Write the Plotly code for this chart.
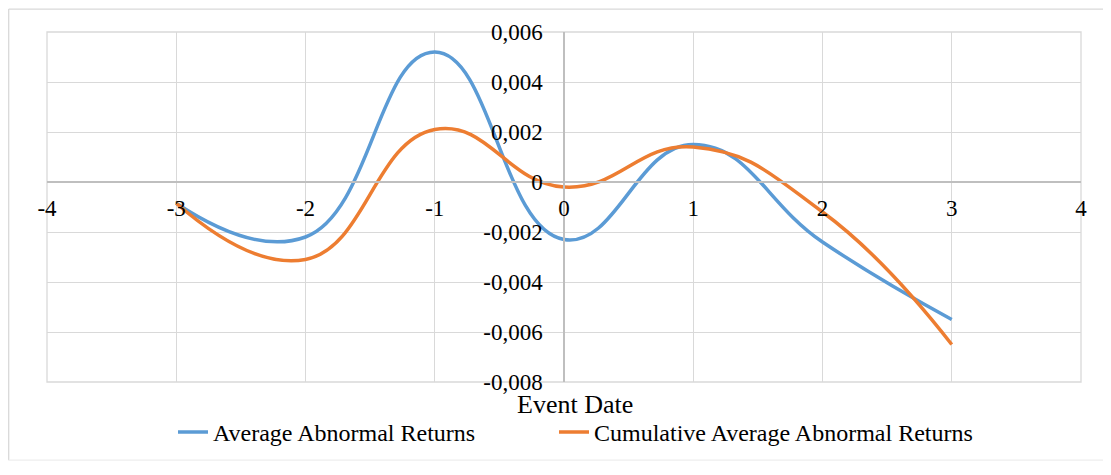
import plotly.graph_objects as go

event_days = [-3, -2, -1, 0, 1, 2, 3]
aar = [-0.00085, -0.0022, 0.0052, -0.0023, 0.0015, -0.0024, -0.0055]
caar = [-0.00085, -0.0031, 0.0021, -0.0002, 0.0014, -0.0012, -0.0065]

x_ticks = [-4, -3, -2, -1, 0, 1, 2, 3, 4]
x_tick_text = ["-4", "-3", "-2", "-1", "0", "1", "2", "3", "4"]
y_ticks = [-0.008, -0.006, -0.004, -0.002, 0, 0.002, 0.004, 0.006]
y_tick_text = ["-0,008", "-0,006", "-0,004", "-0,002", "0", "0,002", "0,004", "0,006"]

FONT = "Liberation Serif, Times New Roman, serif"
GRID = "#d9d9d9"
AXIS = "#bfbfbf"

W, H = 1095, 459
L, T, PW, PH = 39, 24, 1034, 355

fig = go.Figure()
fig.add_trace(go.Scatter(x=event_days, y=aar, mode="lines", name="Average Abnormal Returns",
                         legend="legend",
                         line=dict(color="#5b9bd5", width=3.5, shape="spline", smoothing=1.3)))
fig.add_trace(go.Scatter(x=event_days, y=caar, mode="lines", name="Cumulative Average Abnormal Returns",
                         legend="legend2",
                         line=dict(color="#ed7d31", width=3.5, shape="spline", smoothing=1.3)))

ymin, ymax = -0.008, 0.006
zero_frac = (0 - ymin) / (ymax - ymin)

def px(xf):
    return (xf - L) / PW

def py(yf):
    return (T + PH - yf) / PH

legend_common = dict(orientation="h", xanchor="left", y=py(430), yanchor="middle",
                     font=dict(family=FONT, size=24), bgcolor="rgba(0,0,0,0)")

fig.update_layout(
    width=W, height=H,
    margin=dict(l=L, r=W - L - PW, t=T, b=H - T - PH, pad=0),
    paper_bgcolor="white", plot_bgcolor="white",
    font=dict(family=FONT, size=23, color="black"),
    showlegend=True,
    legend=dict(x=px(165), **legend_common),
    legend2=dict(x=px(546), **legend_common),
    xaxis=dict(range=[-4, 4], tickvals=x_ticks, ticktext=x_tick_text,
               showgrid=True, gridcolor=GRID, gridwidth=1.3,
               zeroline=False, showline=True, linecolor=AXIS, linewidth=1.5,
               anchor="free", position=zero_frac, side="bottom",
               ticks="outside", ticklen=6, tickcolor="rgba(0,0,0,0)",
               tickfont=dict(family=FONT, size=23)),
    yaxis=dict(range=[ymin, ymax], tickvals=y_ticks, ticktext=y_tick_text,
               showgrid=True, gridcolor=GRID, gridwidth=1.3, domain=[0, 1],
               zeroline=False, showline=True, linecolor=AXIS, linewidth=1.5,
               anchor="free", position=0.5, side="left",
               ticks="outside", ticklen=16, tickcolor="rgba(0,0,0,0)",
               tickfont=dict(family=FONT, size=23)),
    annotations=[dict(text="Event Date", xref="paper", yref="paper", x=px(567), y=py(402),
                      xanchor="center", yanchor="middle", showarrow=False,
                      font=dict(family=FONT, size=26))],
    shapes=[
        dict(type="rect", xref="paper", yref="paper", x0=0, x1=1, y0=0, y1=1,
             line=dict(color=GRID, width=1.3), layer="below"),
        dict(type="line", xref="paper", yref="paper", x0=px(0.7), x1=px(0.7), y0=py(0.7), y1=py(H - 0.7),
             line=dict(color=GRID, width=1.3)),
        dict(type="line", xref="paper", yref="paper", x0=px(0.7), x1=px(W), y0=py(0.7), y1=py(0.7),
             line=dict(color=GRID, width=1.3)),
        dict(type="line", xref="paper", yref="paper", x0=px(0.7), x1=px(W), y0=py(H - 0.7), y1=py(H - 0.7),
             line=dict(color="#eeeeee", width=1.3)),
    ],
)

fig.write_html("out.html")
